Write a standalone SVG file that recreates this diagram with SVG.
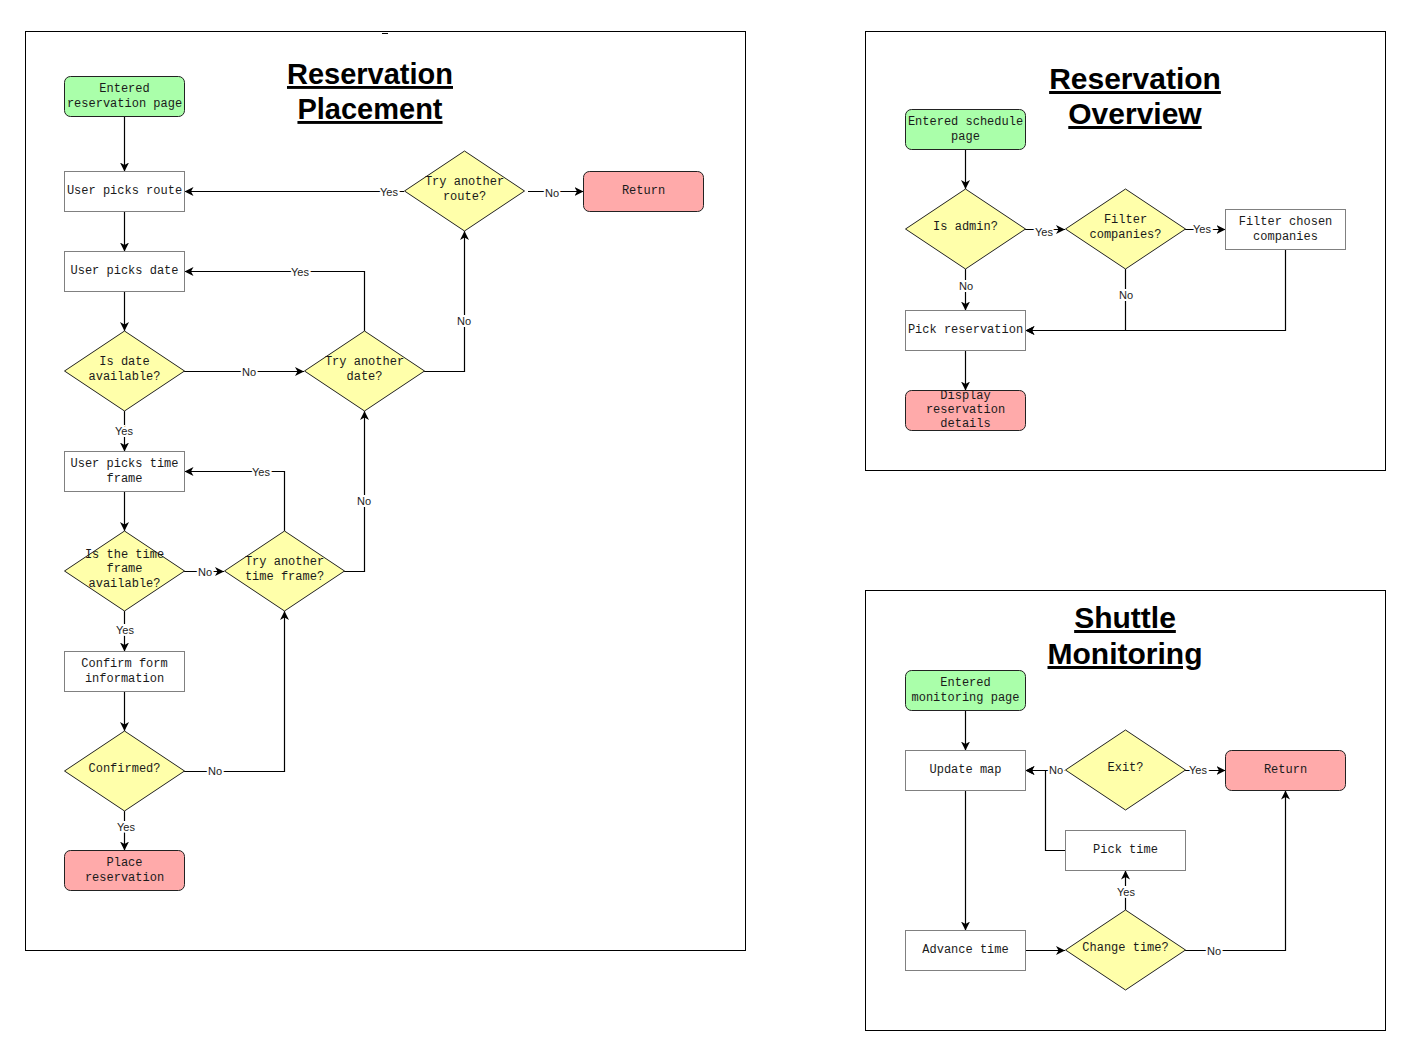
<svg xmlns="http://www.w3.org/2000/svg" width="1412" height="1056" viewBox="0 0 1412 1056">
<style>
.frame{fill:#fff;stroke:#000;stroke-width:1}
.proc{fill:#fff;stroke:#808080;stroke-width:1}
.start{fill:#aaffaa;stroke:#222;stroke-width:1}
.end{fill:#ffaaaa;stroke:#222;stroke-width:1}
.dec{fill:#ffffaa;stroke:#222;stroke-width:1}
.t{font-family:"Liberation Mono","DejaVu Sans Mono",monospace;font-size:12px;fill:#1a1a1a;text-anchor:middle;dominant-baseline:central;transform:translateY(1px)}
.title{font-family:"Liberation Sans",Arial,sans-serif;font-size:29px;font-weight:bold;fill:#000;text-anchor:middle;text-decoration:underline}
.title2{font-size:30px}
.e{fill:none;stroke:#000;stroke-width:1.2}
.lbl{font-family:"Liberation Sans",Arial,sans-serif;font-size:11px;fill:#222;text-anchor:middle;dominant-baseline:central;stroke:#fff;stroke-width:4;paint-order:stroke}
</style>
<defs>
<marker id="arr" markerUnits="userSpaceOnUse" markerWidth="12" markerHeight="12" refX="9" refY="4.5" orient="auto">
<path d="M0,0 L9,4.5 L0,9 L2.5,4.5 z" fill="#000"/>
</marker>
</defs>
<rect width="1412" height="1056" fill="#fff"/>

<g id="frames">
<rect class="frame" x="25.5" y="31.5" width="720" height="919"/>
<rect class="frame" x="865.5" y="31.5" width="520" height="439"/>
<rect class="frame" x="865.5" y="590.5" width="520" height="440"/>
<line x1="382" y1="33.5" x2="388" y2="33.5" stroke="#000" stroke-width="1"/>
</g>

<g id="titles">
<text class="title" x="370" y="84">Reservation</text>
<text class="title" x="370" y="119">Placement</text>
<text class="title title2" x="1135" y="89">Reservation</text>
<text class="title title2" x="1135" y="124">Overview</text>
<text class="title title2" x="1125" y="628">Shuttle</text>
<text class="title title2" x="1125" y="664">Monitoring</text>
</g>

<g id="connectors">
<!-- Reservation placement -->
<path class="e" d="M124.5,116.5 V171.5" marker-end="url(#arr)"/>
<path class="e" d="M124.5,211.5 V251.5" marker-end="url(#arr)"/>
<path class="e" d="M124.5,291.5 V331" marker-end="url(#arr)"/>
<path class="e" d="M124.5,411 V451.5" marker-end="url(#arr)"/>
<path class="e" d="M184,371.5 H304" marker-end="url(#arr)"/>
<path class="e" d="M364.5,331 V271.5 H184.5" marker-end="url(#arr)"/>
<path class="e" d="M424,371.5 H464.5 V231" marker-end="url(#arr)"/>
<path class="e" d="M404,191.5 H184.5" marker-end="url(#arr)"/>
<path class="e" d="M528,191.5 H583.5" marker-end="url(#arr)"/>
<path class="e" d="M124.5,491.5 V531" marker-end="url(#arr)"/>
<path class="e" d="M184,571.5 H224" marker-end="url(#arr)"/>
<path class="e" d="M124.5,611 V651.5" marker-end="url(#arr)"/>
<path class="e" d="M284.5,531 V471.5 H184.5" marker-end="url(#arr)"/>
<path class="e" d="M344,571.5 H364.5 V411" marker-end="url(#arr)"/>
<path class="e" d="M124.5,691.5 V731" marker-end="url(#arr)"/>
<path class="e" d="M124.5,811 V850.5" marker-end="url(#arr)"/>
<path class="e" d="M184,771.5 H284.5 V611" marker-end="url(#arr)"/>
<!-- Reservation overview -->
<path class="e" d="M965.5,149.5 V189" marker-end="url(#arr)"/>
<path class="e" d="M1025,229.5 H1065" marker-end="url(#arr)"/>
<path class="e" d="M1185,229.5 H1225.5" marker-end="url(#arr)"/>
<path class="e" d="M965.5,269 V310.5" marker-end="url(#arr)"/>
<path class="e" d="M1125.5,269 V330.5 H1025.5" marker-end="url(#arr)"/>
<path class="e" d="M1285.5,249.5 V330.5 H1025.5" marker-end="url(#arr)"/>
<path class="e" d="M965.5,350.5 V390.5" marker-end="url(#arr)"/>
<!-- Shuttle monitoring -->
<path class="e" d="M965.5,710.5 V750.5" marker-end="url(#arr)"/>
<path class="e" d="M965.5,790.5 V930.5" marker-end="url(#arr)"/>
<path class="e" d="M1025.5,950.5 H1065" marker-end="url(#arr)"/>
<path class="e" d="M1125.5,910 V870.5" marker-end="url(#arr)"/>
<path class="e" d="M1185,950.5 H1285.5 V790.5" marker-end="url(#arr)"/>
<path class="e" d="M1065.5,850.5 H1045.5 V770.5 H1025.5" marker-end="url(#arr)"/>
<path class="e" d="M1065,770.5 H1025.5" marker-end="url(#arr)"/>
<path class="e" d="M1185,770.5 H1225.5" marker-end="url(#arr)"/>
</g>

<g id="edge-labels">
<text class="lbl" x="124" y="431">Yes</text>
<text class="lbl" x="249" y="372">No</text>
<text class="lbl" x="300" y="272">Yes</text>
<text class="lbl" x="464" y="321">No</text>
<text class="lbl" x="389" y="192">Yes</text>
<text class="lbl" x="552" y="193">No</text>
<text class="lbl" x="205" y="572">No</text>
<text class="lbl" x="125" y="630">Yes</text>
<text class="lbl" x="261" y="472">Yes</text>
<text class="lbl" x="364" y="501">No</text>
<text class="lbl" x="126" y="827">Yes</text>
<text class="lbl" x="215" y="771">No</text>
<text class="lbl" x="1044" y="232">Yes</text>
<text class="lbl" x="1202" y="229">Yes</text>
<text class="lbl" x="966" y="286">No</text>
<text class="lbl" x="1126" y="295">No</text>
<text class="lbl" x="1126" y="892">Yes</text>
<text class="lbl" x="1214" y="951">No</text>
<text class="lbl" x="1056" y="770">No</text>
<text class="lbl" x="1198" y="770">Yes</text>
</g>

<!-- Reservation Placement nodes -->
<g id="entered-reservation">
<rect class="start" x="64.5" y="76.5" width="120" height="40" rx="6"/>
<text class="t" x="124.5" y="88">Entered</text>
<text class="t" x="124.5" y="103">reservation page</text>
</g>
<g id="user-picks-route">
<rect class="proc" x="64.5" y="171.5" width="120" height="40"/>
<text class="t" x="124.5" y="190">User picks route</text>
</g>
<g id="user-picks-date">
<rect class="proc" x="64.5" y="251.5" width="120" height="40"/>
<text class="t" x="124.5" y="270">User picks date</text>
</g>
<g id="is-date-available">
<polygon class="dec" points="124.5,331 184.5,371 124.5,411 64.5,371"/>
<text class="t" x="124.5" y="361">Is date</text>
<text class="t" x="124.5" y="376">available?</text>
</g>
<g id="user-picks-time-frame">
<rect class="proc" x="64.5" y="451.5" width="120" height="40"/>
<text class="t" x="124.5" y="463">User picks time</text>
<text class="t" x="124.5" y="478">frame</text>
</g>
<g id="is-time-frame-available">
<polygon class="dec" points="124.5,531 184.5,571 124.5,611 64.5,571"/>
<text class="t" x="124.5" y="554">Is the time</text>
<text class="t" x="124.5" y="568">frame</text>
<text class="t" x="124.5" y="583">available?</text>
</g>
<g id="confirm-form">
<rect class="proc" x="64.5" y="651.5" width="120" height="40"/>
<text class="t" x="124.5" y="663">Confirm form</text>
<text class="t" x="124.5" y="678">information</text>
</g>
<g id="confirmed">
<polygon class="dec" points="124.5,731 184.5,771 124.5,811 64.5,771"/>
<text class="t" x="124.5" y="768">Confirmed?</text>
</g>
<g id="place-reservation">
<rect class="end" x="64.5" y="850.5" width="120" height="40" rx="6"/>
<text class="t" x="124.5" y="862">Place</text>
<text class="t" x="124.5" y="877">reservation</text>
</g>
<g id="try-another-date">
<polygon class="dec" points="364.5,331 424.5,371 364.5,411 304.5,371"/>
<text class="t" x="364.5" y="361">Try another</text>
<text class="t" x="364.5" y="376">date?</text>
</g>
<g id="try-another-time-frame">
<polygon class="dec" points="284.5,531 344.5,571 284.5,611 224.5,571"/>
<text class="t" x="284.5" y="561">Try another</text>
<text class="t" x="284.5" y="576">time frame?</text>
</g>
<g id="try-another-route">
<polygon class="dec" points="464.5,151 524.5,191 464.5,231 404.5,191"/>
<text class="t" x="464.5" y="181">Try another</text>
<text class="t" x="464.5" y="196">route?</text>
</g>
<g id="return-placement">
<rect class="end" x="583.5" y="171.5" width="120" height="40" rx="6"/>
<text class="t" x="643.5" y="190">Return</text>
</g>

<!-- Reservation Overview nodes -->
<g id="entered-schedule">
<rect class="start" x="905.5" y="109.5" width="120" height="40" rx="6"/>
<text class="t" x="965.5" y="121">Entered schedule</text>
<text class="t" x="965.5" y="136">page</text>
</g>
<g id="is-admin">
<polygon class="dec" points="965.5,189 1025.5,229 965.5,269 905.5,229"/>
<text class="t" x="965.5" y="226">Is admin?</text>
</g>
<g id="filter-companies">
<polygon class="dec" points="1125.5,189 1185.5,229 1125.5,269 1065.5,229"/>
<text class="t" x="1125.5" y="219">Filter</text>
<text class="t" x="1125.5" y="234">companies?</text>
</g>
<g id="filter-chosen">
<rect class="proc" x="1225.5" y="209.5" width="120" height="40"/>
<text class="t" x="1285.5" y="221">Filter chosen</text>
<text class="t" x="1285.5" y="236">companies</text>
</g>
<g id="pick-reservation">
<rect class="proc" x="905.5" y="310.5" width="120" height="40"/>
<text class="t" x="965.5" y="329">Pick reservation</text>
</g>
<g id="display-details">
<rect class="end" x="905.5" y="390.5" width="120" height="40" rx="6"/>
<text class="t" x="965.5" y="395">Display</text>
<text class="t" x="965.5" y="409">reservation</text>
<text class="t" x="965.5" y="423">details</text>
</g>

<!-- Shuttle Monitoring nodes -->
<g id="entered-monitoring">
<rect class="start" x="905.5" y="670.5" width="120" height="40" rx="6"/>
<text class="t" x="965.5" y="682">Entered</text>
<text class="t" x="965.5" y="697">monitoring page</text>
</g>
<g id="update-map">
<rect class="proc" x="905.5" y="750.5" width="120" height="40"/>
<text class="t" x="965.5" y="769">Update map</text>
</g>
<g id="exit">
<polygon class="dec" points="1125.5,730 1185.5,770 1125.5,810 1065.5,770"/>
<text class="t" x="1125.5" y="767">Exit?</text>
</g>
<g id="return-monitoring">
<rect class="end" x="1225.5" y="750.5" width="120" height="40" rx="6"/>
<text class="t" x="1285.5" y="769">Return</text>
</g>
<g id="pick-time">
<rect class="proc" x="1065.5" y="830.5" width="120" height="40"/>
<text class="t" x="1125.5" y="849">Pick time</text>
</g>
<g id="advance-time">
<rect class="proc" x="905.5" y="930.5" width="120" height="40"/>
<text class="t" x="965.5" y="949">Advance time</text>
</g>
<g id="change-time">
<polygon class="dec" points="1125.5,910 1185.5,950 1125.5,990 1065.5,950"/>
<text class="t" x="1125.5" y="947">Change time?</text>
</g>
</svg>
